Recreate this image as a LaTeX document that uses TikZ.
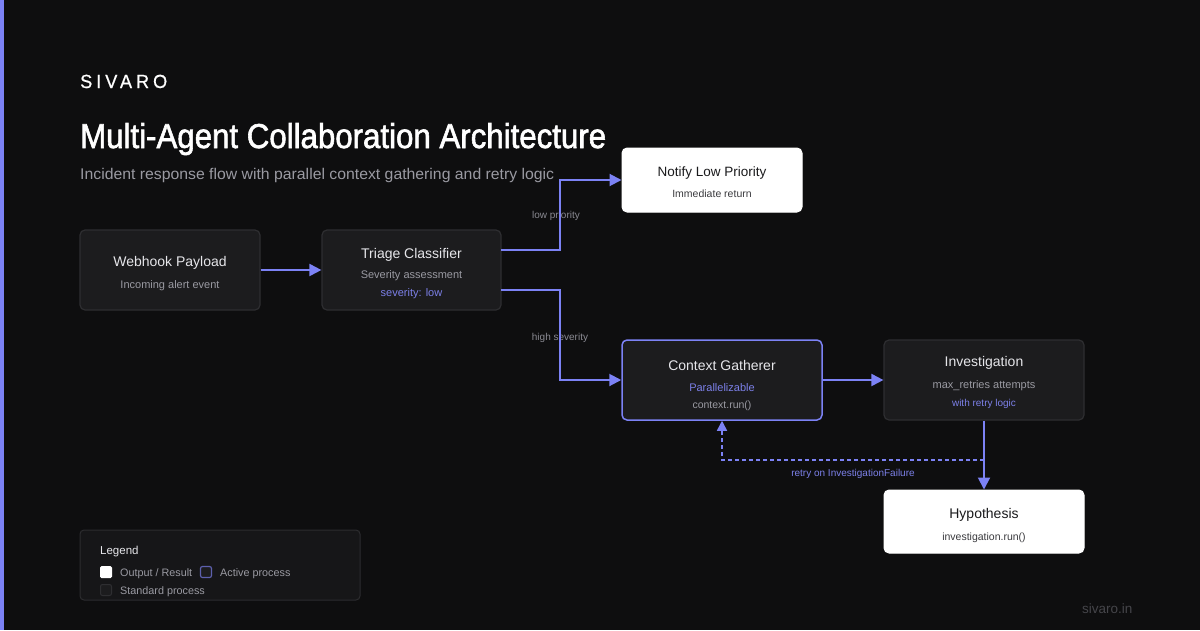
\documentclass[tikz,border=0pt]{standalone}
\usepackage{fontspec}
\usepackage{graphicx}
\setmainfont{Liberation Sans}
\usetikzlibrary{arrows.meta}
\definecolor{bg}{HTML}{0E0E0F}
\definecolor{accent}{HTML}{7C82F5}
\definecolor{boxfill}{HTML}{1C1C1E}
\definecolor{boxline}{HTML}{2E2E31}
\definecolor{txtlight}{HTML}{E6E6EA}
\definecolor{txtgray}{HTML}{9A9AA2}
\definecolor{txtblue}{HTML}{7C80E8}
\definecolor{txtdark}{HTML}{1A1A1C}
\definecolor{txtdarkgray}{HTML}{3A3A3E}
\definecolor{lblgray}{HTML}{8A8A92}
\definecolor{legfill}{HTML}{161618}
\definecolor{legline}{HTML}{2C2C2F}
\definecolor{footgray}{HTML}{45454A}
\tikzset{
  stdbox/.style={draw=boxline, fill=boxfill, line width=1.2pt, rounded corners=5pt, inner sep=0pt},
  actbox/.style={draw=accent, fill=boxfill, line width=1.5pt, rounded corners=5pt, inner sep=0pt},
  outbox/.style={draw=white, fill=white, line width=1pt, rounded corners=5pt, inner sep=0pt},
  txt/.style={inner sep=0pt, yshift=-2pt},
  ttl/.style={txt, text=txtlight, font=\fontsize{14}{16}\selectfont},
  ttldark/.style={txt, text=txtdark, font=\fontsize{14}{16}\selectfont},
  sub/.style={txt, text=txtgray, font=\fontsize{11}{13}\selectfont},
  subblue/.style={txt, text=txtblue, font=\fontsize{11}{13}\selectfont},
  subbluesm/.style={txt, text=txtblue, font=\fontsize{10}{12}\selectfont},
  subdark/.style={txt, text=txtdarkgray, font=\fontsize{10.5}{12}\selectfont},
  lbl/.style={txt, text=lblgray, font=\fontsize{10}{12}\selectfont},
  flow/.style={draw=accent, line width=2pt, -{Triangle[length=12pt,width=12pt]}},
  retry/.style={draw=accent, line width=1.5pt, dash pattern=on 4pt off 3pt, -{Triangle[length=10pt,width=10pt]}},
  leg/.style={txt, text=txtgray, font=\fontsize{10.8}{12}\selectfont, anchor=west},
}
\begin{document}
\begin{tikzpicture}[x=1pt,y=-1pt]
\useasboundingbox (0,0) rectangle (1200,630);
\fill[bg] (0,0) rectangle (1200,630);
\fill[accent] (0,0) rectangle (4,630);

% header
\node[anchor=base west, inner sep=0pt, text=white] (brand) at (80,88)
  {\resizebox{87pt}{\height}{\fontsize{19}{22}\selectfont\addfontfeature{LetterSpace=22,FakeBold=0.8}SIVARO}};
\node[anchor=base west, inner sep=0pt, text=white] (title) at (80,148)
  {\resizebox{526pt}{\height}{\fontsize{34.5}{40}\selectfont\addfontfeature{FakeBold=1.8}Multi-Agent Collaboration Architecture}};
\node[anchor=base west, inner sep=0pt, text=txtgray] (subtitle) at (80,179)
  {\resizebox{474pt}{\height}{\fontsize{15.5}{18}\selectfont Incident response flow with parallel context gathering and retry logic}};

% boxes
\node[stdbox, minimum width=180pt, minimum height=80pt] (web) at (170,270) {};
\node[stdbox, minimum width=179pt, minimum height=80pt] (tri) at (411.5,270) {};
\node[outbox, minimum width=180pt, minimum height=64pt] (note) at (712,180) {};
\node[actbox, minimum width=200pt, minimum height=80pt] (ctx) at (722,380) {};
\node[stdbox, minimum width=200pt, minimum height=80pt] (inv) at (984,380) {};
\node[outbox, minimum width=200pt, minimum height=63pt] (hyp) at (984,521.5) {};

% box texts
\node[ttl] (webT) at (170,261) {Webhook Payload};
\node[sub] (webS) at (170,284) {Incoming alert event};
\node[ttl] (triT) at (411.5,253) {Triage Classifier};
\node[sub] (triS) at (411.5,274) {Severity assessment};
\node[subblue] (triB) at (411.5,292) {severity: low};
\node[ttldark, font=\fontsize{13.5}{16}\selectfont] (noteT) at (712,171) {Notify Low Priority};
\node[subdark] (noteS) at (712,192) {Immediate return};
\node[ttl] (ctxT) at (722,363) {Context Gatherer};
\node[subblue] (ctxB) at (722,386) {Parallelizable};
\node[sub, font=\fontsize{10.5}{12}\selectfont] (ctxS) at (722,404) {context.run()};
\node[ttl] (invT) at (984,361) {Investigation};
\node[sub] (invS) at (984,384) {max\_retries attempts};
\node[subbluesm] (invB) at (984,402) {with retry logic};
\node[ttldark] (hypT) at (984,513) {Hypothesis};
\node[subdark] (hypS) at (984,536) {investigation.run()};

% connector labels
\node[lbl] (lowL) at (556,214) {low priority};
\node[lbl] (highL) at (560,336) {high severity};
\node[subbluesm] (retryL) at (853,472) {retry on InvestigationFailure};

% connectors
\coordinate (triUp) at (501,250);
\coordinate (triDn) at (501,290);
\coordinate (retryStart) at (984,460);
\draw[flow] (web.east) -- (tri.west);
\draw[flow] (triUp) -- (560,250) -- (560,180) -- (note.west);
\draw[flow] (triDn) -- (560,290) -- (560,380) -- (ctx.west);
\draw[flow] (ctx.east) -- (inv.west);
\draw[flow] (inv.south) -- (hyp.north);
\draw[retry] (retryStart) -- (722,460) -- (ctx.south);

% legend
\node[draw=legline, fill=legfill, line width=1pt, rounded corners=4pt, minimum width=280pt, minimum height=70pt, inner sep=0pt] (legend) at (220,565) {};
\node[txt, anchor=west, text=txtlight, font=\fontsize{11.5}{13}\selectfont] (legT) at (100,550) {Legend};
\node[fill=white, rounded corners=1.5pt, minimum size=12pt, inner sep=0pt] (legOut) at (106,572) {};
\node[leg] (legOutT) at (120,572) {Output / Result};
\node[draw=txtblue!75!black, fill=boxfill, line width=1.2pt, rounded corners=2pt, minimum size=11pt, inner sep=0pt] (legAct) at (206,572) {};
\node[leg] (legActT) at (220,572) {Active process};
\node[draw=boxline, fill=boxfill, line width=1pt, rounded corners=2pt, minimum size=11pt, inner sep=0pt] (legStd) at (106,590) {};
\node[leg] (legStdT) at (120,590) {Standard process};

% footer
\node[txt, anchor=west, text=footgray, font=\fontsize{13.5}{15}\selectfont] (foot) at (1082,607) {sivaro.in};
\end{tikzpicture}
\end{document}
